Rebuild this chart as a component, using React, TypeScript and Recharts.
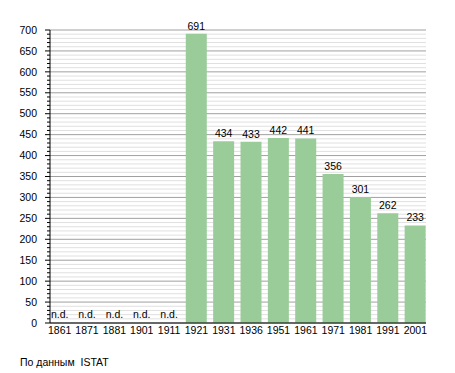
import React from 'react';
import { BarChart, Bar, XAxis, YAxis, CartesianGrid, LabelList } from 'recharts';

const years = ['1861', '1871', '1881', '1901', '1911', '1921', '1931', '1936', '1951', '1961', '1971', '1981', '1991', '2001'];
const population: (number | null)[] = [null, null, null, null, null, 691, 434, 433, 442, 441, 356, 301, 262, 233];
const yTicks: number[] = [];
for (let v = 0; v <= 700; v += 10) yTicks.push(v);
const noDataLabel = 'n.d.';
const sourceText = 'По данным  ISTAT';

const data = years.map((y, i) => ({ year: y, value: population[i] }));

const FONT = '"Liberation Sans", Arial, sans-serif';
const FS = 10.5;

const YTick = (props: any) => {
  const { x, y, payload } = props;
  const v = payload.value as number;
  const major = v % 50 === 0;
  return (
    <g>
      <line x1={x - (major ? 5 : 3)} x2={x} y1={y} y2={y} stroke="#000" strokeWidth={1} />
      {major && (
        <text x={x - 13} y={y} dy="0.35em" textAnchor="end" fontFamily={FONT} fontSize={FS} fill="#000">
          {v}
        </text>
      )}
    </g>
  );
};

const XTick = (props: any) => {
  const { x, y, payload, index } = props;
  const i = typeof index === 'number' ? index : years.indexOf(payload.value);
  const missing = population[i] == null;
  return (
    <g>
      <text x={x} y={y} dy="0.71em" textAnchor="middle" fontFamily={FONT} fontSize={FS} fill="#000">
        {payload.value}
      </text>
      {missing && (
        <text x={x} y={y - 9.5} textAnchor="middle" fontFamily={FONT} fontSize={FS} fill="#000">
          {noDataLabel}
        </text>
      )}
    </g>
  );
};

const GridLine = (props: any) => {
  const { x1, x2, y1, y2, index } = props;
  const major = index % 5 === 0;
  return <line x1={x1} x2={x2} y1={y1} y2={y2} stroke={major ? '#a0a0a0' : '#e0e0e0'} strokeWidth={1} />;
};

const ValueLabel = (props: any) => {
  const { x, y, width, value } = props;
  if (value == null) return null;
  return (
    <text x={x + width / 2} y={y - 4} textAnchor="middle" fontFamily={FONT} fontSize={FS} fill="#000">
      {value}
    </text>
  );
};

export default function App() {
  return (
    <div style={{ position: 'absolute', left: 0, top: 0, width: 455, height: 373, background: '#fff' }}>
      <BarChart width={455} height={373} data={data} margin={{ top: 30, right: 29, bottom: 20, left: 0 }}>
        <CartesianGrid vertical={false} horizontal={(p: any) => <GridLine {...p} key={p.key ?? p.index} />} />
        <XAxis
          dataKey="year"
          height={30}
          tickSize={0}
          tickMargin={4}
          tickLine={false}
          axisLine={{ stroke: '#000' }}
          padding={{ left: -4, right: -3 }}
          interval={0}
          tick={<XTick />}
        />
        <YAxis
          width={50}
          domain={[0, 700]}
          ticks={yTicks}
          interval={0}
          tickSize={0}
          tickMargin={0}
          tickLine={false}
          axisLine={{ stroke: '#000' }}
          tick={<YTick />}
        />
        <Bar dataKey="value" fill="#99cc99" barSize={21} isAnimationActive={false}>
          <LabelList dataKey="value" content={<ValueLabel />} />
        </Bar>
      </BarChart>
      <div
        style={{
          position: 'absolute',
          left: 20,
          top: 357,
          fontFamily: FONT,
          fontSize: FS,
          lineHeight: 1,
          whiteSpace: 'pre',
          color: '#000',
        }}
      >
        {sourceText}
      </div>
    </div>
  );
}
